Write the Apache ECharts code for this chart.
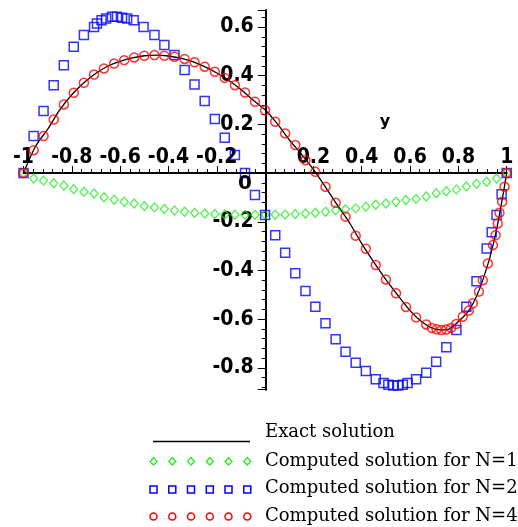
<!DOCTYPE html>
<html lang="en">
<head>
    <meta charset="UTF-8">
    <title>Exact and computed solutions</title>
    <style>html,body{margin:0;padding:0;background:#fff;}</style>
</head>
<body>
    <div id="main" style="width:518px;height:527px;"></div>
    <script src="https://cdn.jsdelivr.net/npm/echarts@6/dist/echarts.min.js"></script>
</body>
</html>
<script type="text/javascript">
    // exact solution
    var exactX = [-1, -0.95, -0.9, -0.85, -0.8, -0.75, -0.7, -0.65, -0.6, -0.55, -0.5, -0.45, -0.4, -0.35, -0.3, -0.25, -0.2, -0.15, -0.1, -0.05,
                  0, 0.05, 0.1, 0.15, 0.2, 0.25, 0.3, 0.35, 0.4, 0.45, 0.5, 0.55, 0.6, 0.65, 0.7, 0.75, 0.8, 0.85, 0.9, 0.95, 1];
    var exactY = [0, 0.11, 0.18, 0.26, 0.322, 0.371, 0.41, 0.44, 0.459, 0.473, 0.482, 0.485, 0.481, 0.472, 0.458, 0.437, 0.411, 0.38, 0.343, 0.30,
                  0.26, 0.203, 0.137, 0.078, 0.015, -0.058, -0.133, -0.205, -0.29, -0.366, -0.438, -0.503, -0.565, -0.612, -0.64, -0.644, -0.61, -0.555, -0.443, -0.27, 0];

    // N=1 (green diamonds)
    var n1X = [-1, -0.958, -0.917, -0.875, -0.833, -0.792, -0.75, -0.708, -0.667, -0.625, -0.583, -0.542, -0.5, -0.458, -0.417, -0.375, -0.333, -0.292, -0.25, -0.208, -0.167, -0.125, -0.083, -0.042,
               0, 0.042, 0.083, 0.125, 0.167, 0.208, 0.25, 0.292, 0.333, 0.375, 0.417, 0.458, 0.5, 0.542, 0.583, 0.625, 0.667, 0.708, 0.75, 0.792, 0.833, 0.875, 0.917, 0.958, 1];
    var n1Y = [0, -0.022, -0.031, -0.042, -0.051, -0.066, -0.077, -0.084, -0.099, -0.110, -0.118, -0.125, -0.135, -0.141, -0.148, -0.154, -0.159, -0.163, -0.166, -0.168, -0.170, -0.171, -0.171, -0.171,
               -0.171, -0.171, -0.170, -0.168, -0.166, -0.163, -0.159, -0.153, -0.149, -0.145, -0.138, -0.130, -0.125, -0.118, -0.111, -0.106, -0.096, -0.083, -0.075, -0.067, -0.055, -0.044, -0.036, -0.022, 0];

    // N=2 (blue squares)
    var n2X = [-1, -0.958, -0.917, -0.875, -0.833, -0.792, -0.75, -0.708, -0.696, -0.677, -0.658, -0.634, -0.613, -0.592, -0.571, -0.544, -0.503, -0.458, -0.417, -0.375, -0.333, -0.292, -0.25, -0.208, -0.167, -0.125, -0.083, -0.042,
               0, 0.042, 0.083, 0.125, 0.167, 0.208, 0.25, 0.292, 0.333, 0.375, 0.417, 0.458, 0.49, 0.51, 0.53, 0.55, 0.57, 0.59, 0.625, 0.667, 0.708, 0.75, 0.792, 0.833, 0.875, 0.917, 0.938, 0.958, 0.979, 1];
    var n2Y = [0, 0.152, 0.255, 0.361, 0.443, 0.519, 0.567, 0.600, 0.615, 0.628, 0.635, 0.642, 0.642, 0.638, 0.635, 0.628, 0.600, 0.567, 0.526, 0.485, 0.423, 0.364, 0.296, 0.222, 0.145, 0.074, 0.0, -0.09,
               -0.172, -0.255, -0.327, -0.412, -0.485, -0.549, -0.617, -0.683, -0.734, -0.779, -0.813, -0.847, -0.862, -0.87, -0.873, -0.873, -0.87, -0.862, -0.847, -0.82, -0.775, -0.716, -0.645, -0.549, -0.444, -0.31, -0.243, -0.172, -0.087, 0];

    // N=4 (red circles)
    var n4X = [-1, -0.958, -0.917, -0.875, -0.833, -0.792, -0.75, -0.708, -0.667, -0.625, -0.583, -0.542, -0.5, -0.458, -0.417, -0.375, -0.333, -0.292, -0.25, -0.208, -0.167, -0.125, -0.083, -0.042,
               0, 0.042, 0.083, 0.125, 0.167, 0.208, 0.25, 0.292, 0.333, 0.375, 0.417, 0.458, 0.5, 0.542, 0.583, 0.625, 0.667, 0.69, 0.71, 0.73, 0.75, 0.77, 0.791, 0.818, 0.843, 0.86, 0.885, 0.901, 0.922, 0.943, 0.954, 0.963, 0.970, 0.981, 0.991, 1];
    var n4Y = [0, 0.094, 0.152, 0.22, 0.282, 0.33, 0.371, 0.405, 0.43, 0.45, 0.464, 0.475, 0.482, 0.485, 0.482, 0.478, 0.469, 0.455, 0.437, 0.416, 0.391, 0.361, 0.331, 0.293,
               0.258, 0.211, 0.163, 0.115, 0.053, 0.005, -0.056, -0.122, -0.179, -0.257, -0.311, -0.378, -0.437, -0.494, -0.55, -0.593, -0.622, -0.636, -0.642, -0.645, -0.643, -0.636, -0.62, -0.59, -0.565, -0.535, -0.487, -0.44, -0.371, -0.296, -0.255, -0.207, -0.163, -0.118, -0.056, 0];

    var legendNames = ['Exact solution', 'Computed solution for N=1', 'Computed solution for N=2', 'Computed solution for N=4'];

    var X_MIN = -1, X_MAX = 1, Y_MIN = -0.89, Y_MAX = 0.67;

    function pairs(xs, ys) {
        var arr = [];
        for (var i = 0; i < xs.length; i++) {
            arr.push([xs[i], ys[i]]);
        }
        return arr;
    }

    function tickText(v) {
        if (Math.abs(v) < 1e-9) return '';
        return String(Math.round(v * 10) / 10);
    }

    var tickFont = { fontFamily: '"DejaVu Sans Condensed", "DejaVu Sans"', fontWeight: 'bold', fontSize: 21, color: '#000' };
    var black = { color: '#000', width: 1 };

    // hand-made legend (Maple style: a row of symbols before each text)
    var green = '#22ee22', blue = '#0000ff', red = '#ff0000';
    var legendItems = [];
    var symX = [153.5, 172.3, 191, 209.8, 228.5, 247.3];
    var rowY = [432, 461, 488.5, 516];
    legendItems.push({ type: 'line', shape: { x1: 153, y1: 441.5, x2: 250, y2: 441.5 }, style: { stroke: '#000', lineWidth: 1.5 } });
    for (var k = 0; k < symX.length; k++) {
        var cx = symX[k];
        legendItems.push({ type: 'polygon', shape: { points: [[cx, rowY[1] - 3.5], [cx + 3.5, rowY[1] + 0.5], [cx, rowY[1] + 4], [cx - 3.5, rowY[1] + 0.5]] },
            style: { fill: 'none', stroke: green, lineWidth: 1.3 } });
        legendItems.push({ type: 'rect', shape: { x: cx - 3.5, y: rowY[2] - 2.5, width: 7, height: 7 },
            style: { fill: 'none', stroke: blue, lineWidth: 1.5 } });
        legendItems.push({ type: 'circle', shape: { cx: cx, cy: rowY[3] + 0.5, r: 3.5 },
            style: { fill: 'none', stroke: red, lineWidth: 1.5 } });
    }
    for (var r = 0; r < legendNames.length; r++) {
        legendItems.push({ type: 'text', x: 265, y: rowY[r],
            style: { text: legendNames[r], font: '18px "DejaVu Serif"', fill: '#000', verticalAlign: 'middle' } });
    }
    // axis name "y" and the "0" near the origin
    legendItems.push({ type: 'text', x: 385, y: 122, z: 100, style: { text: 'y', font: 'bold 16px "DejaVu Sans"', fill: '#000', align: 'center', verticalAlign: 'middle' } });
    legendItems.push({ type: 'text', x: 252, y: 184, z: 100, style: { text: '0', font: 'bold 20px "DejaVu Sans"', fill: '#000', align: 'right', verticalAlign: 'middle' } });

    var myChart = echarts.init(document.getElementById('main'));
    myChart.setOption({
        animation: false,
        backgroundColor: '#fff',
        // grid 0 holds the data, grid 1 ends at y = 0 (shows the x axis), grid 2 starts at x = 0 (shows the y axis)
        grid: [
            { left: 23.5, right: 11.3, top: 10, bottom: 137.3, outerBoundsMode: 'none', containLabel: false },
            { left: 23.5, right: 11.3, top: 10, height: 163, outerBoundsMode: 'none', containLabel: false },
            { left: 265.7, width: 20, top: 10, bottom: 137.3, outerBoundsMode: 'none', containLabel: false }
        ],
        xAxis: [
            { gridIndex: 0, type: 'value', min: X_MIN, max: X_MAX, show: false },
            {
                gridIndex: 1, type: 'value', min: X_MIN, max: X_MAX, interval: 0.2, position: 'bottom',
                axisLine: { onZero: false, lineStyle: { color: '#000', width: 2 } },
                axisTick: { inside: true, length: 7, lineStyle: black },
                minorTick: { show: true, splitNumber: 5, length: 4, lineStyle: black },
                splitLine: { show: false },
                axisLabel: Object.assign({ inside: true, margin: 5, formatter: tickText }, tickFont)
            },
            { gridIndex: 2, type: 'value', min: 0, max: 1, show: false }
        ],
        yAxis: [
            { gridIndex: 0, type: 'value', min: Y_MIN, max: Y_MAX, show: false },
            { gridIndex: 1, type: 'value', min: 0, max: 1, show: false },
            {
                gridIndex: 2, type: 'value', min: Y_MIN, max: Y_MAX, splitNumber: 8, position: 'left',
                axisLine: { onZero: false, lineStyle: { color: '#000', width: 2 } },
                axisTick: { length: 8, lineStyle: black },
                minorTick: { show: true, splitNumber: 5, length: 4, lineStyle: black },
                splitLine: { show: false },
                axisLabel: Object.assign({ margin: 12, padding: [6, 0, 0, 0], showMinLabel: false, showMaxLabel: false, formatter: tickText }, tickFont)
            }
        ],
        series: [
            {
                name: legendNames[0], type: 'line', data: pairs(exactX, exactY),
                smooth: 0.3, showSymbol: false, clip: false, z: 2,
                lineStyle: { color: '#000', width: 1.3 }
            },
            {
                name: legendNames[1], type: 'scatter', data: pairs(n1X, n1Y),
                symbol: 'diamond', symbolSize: [8, 9], clip: false, z: 3,
                itemStyle: { color: 'rgba(0,0,0,0)', borderColor: green, borderWidth: 1.3 }
            },
            {
                name: legendNames[2], type: 'scatter', data: pairs(n2X, n2Y),
                symbol: 'rect', symbolSize: 9, clip: false, z: 4,
                itemStyle: { color: 'rgba(0,0,0,0)', borderColor: blue, borderWidth: 1.5 }
            },
            {
                name: legendNames[3], type: 'scatter', data: pairs(n4X, n4Y),
                symbol: 'circle', symbolSize: 9, clip: false, z: 5,
                itemStyle: { color: 'rgba(0,0,0,0)', borderColor: red, borderWidth: 1.5 }
            }
        ],
        graphic: legendItems
    });
</script>
